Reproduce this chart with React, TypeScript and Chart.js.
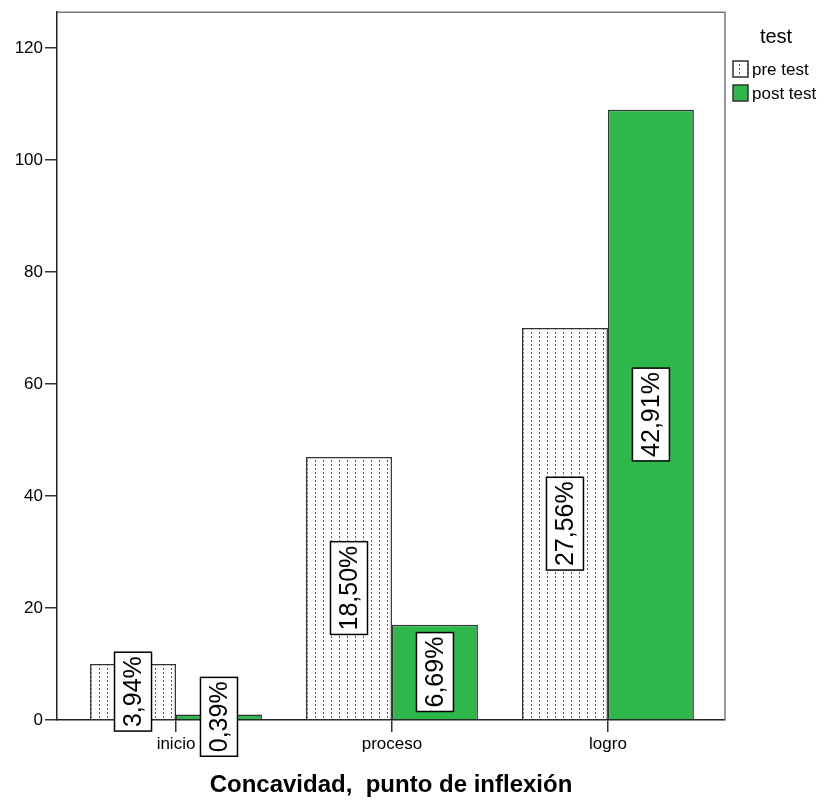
import React, { useEffect, useRef } from 'react';
import { Chart, registerables } from 'chart.js';
Chart.register(...registerables);

const categories = ['inicio', 'proceso', 'logro'];
const seriesNames = ['pre test', 'post test'];
const preTest = [10, 47, 70];
const postTest = [1, 17, 109];
const yTicks = [0, 20, 40, 60, 80, 100, 120];
const axisTitle = 'Concavidad,  punto de inflexión';
const legendTitle = 'test';

const FONT = '"Liberation Sans", Arial, sans-serif';
const GREEN = '#2eb84b';

function makePattern(): CanvasPattern | string {
  const c = document.createElement('canvas');
  c.width = 8;
  c.height = 4;
  const g = c.getContext('2d');
  if (!g) return '#fff';
  g.fillStyle = '#ffffff';
  g.fillRect(0, 0, 8, 4);
  g.fillStyle = '#5a5a5a';
  g.fillRect(3, 0, 1, 2);
  return g.createPattern(c, 'repeat') || '#fff';
}

export default function App() {
  const ref = useRef<HTMLCanvasElement | null>(null);

  useEffect(() => {
    if (!ref.current) return;
    const pattern = makePattern();
    const total = [...preTest, ...postTest].reduce((a, b) => a + b, 0);

    const labelPlugin = {
      id: 'pctLabels',
      afterDatasetsDraw(chart: any) {
        const ctx = chart.ctx;
        chart.data.datasets.forEach((ds: any, di: number) => {
          const meta = chart.getDatasetMeta(di);
          meta.data.forEach((bar: any, i: number) => {
            const v = ds.data[i].y;
            const text = ((v / total) * 100).toFixed(2).replace('.', ',') + '%';
            const cx = bar.x;
            const cy = (bar.y + bar.base) / 2;
            ctx.save();
            ctx.translate(cx, cy);
            ctx.rotate(-Math.PI / 2);
            ctx.font = `25px ${FONT}`;
            const w = ctx.measureText(text).width;
            const bw = w + 8;
            const bh = 37;
            ctx.fillStyle = '#fff';
            ctx.fillRect(-bw / 2, -bh / 2, bw, bh);
            ctx.strokeStyle = '#000';
            ctx.lineWidth = 1.5;
            ctx.strokeRect(-bw / 2, -bh / 2, bw, bh);
            ctx.fillStyle = '#000';
            ctx.textAlign = 'center';
            ctx.textBaseline = 'middle';
            ctx.fillText(text, 0, 1);
            ctx.restore();
          });
        });
      },
    };

    const framePlugin = {
      id: 'frame',
      beforeDatasetsDraw(chart: any) {
        const { ctx, chartArea } = chart;
        ctx.save();
        ctx.strokeStyle = '#777';
        ctx.lineWidth = 1.5;
        ctx.beginPath();
        ctx.moveTo(chartArea.left, chartArea.top);
        ctx.lineTo(chartArea.right, chartArea.top);
        ctx.lineTo(chartArea.right, chartArea.bottom);
        ctx.stroke();
        ctx.restore();
      },
      afterDraw(chart: any) {
        const ctx = chart.ctx;
        const ds = chart.data.datasets;
        ctx.save();
        ctx.fillStyle = '#000';
        ctx.textBaseline = 'middle';
        ctx.textAlign = 'center';
        ctx.font = `20px ${FONT}`;
        ctx.fillText(legendTitle, 776, 37);
        ctx.textAlign = 'left';
        ctx.font = `17px ${FONT}`;
        const rows = [69, 93];
        ds.forEach((d: any, i: number) => {
          const y = rows[i];
          ctx.fillStyle = d.backgroundColor;
          ctx.fillRect(733, y - 8, 15, 16);
          ctx.strokeStyle = '#333';
          ctx.lineWidth = 1.5;
          ctx.strokeRect(733, y - 8, 15, 16);
          ctx.fillStyle = '#000';
          ctx.fillText(d.label, 752, y + 1);
        });
        ctx.restore();
      },
    };

    const chart = new Chart(ref.current, {
      type: 'bar',
      data: {
        datasets: [
          {
            label: seriesNames[0],
            data: categories.map((_, i) => ({ x: i, y: preTest[i] })),
            backgroundColor: pattern as any,
            borderColor: '#333',
            borderWidth: 1.5,
          },
          {
            label: seriesNames[1],
            data: categories.map((_, i) => ({ x: i, y: postTest[i] })),
            backgroundColor: GREEN,
            borderColor: '#333',
            borderWidth: 1.5,
          },
        ],
      },
      options: {
        animation: false,
        responsive: true,
        maintainAspectRatio: false,
        layout: { padding: { left: 0, right: 99, top: 12, bottom: 0 } },
        datasets: { bar: { categoryPercentage: 0.796, barPercentage: 1 } },
        plugins: { legend: { display: false }, tooltip: { enabled: false } },
        scales: {
          x: {
            type: 'linear',
            min: -0.551,
            max: 2.542,
            offset: false,
            afterBuildTicks: (s: any) => {
              s.ticks = categories.map((_, i) => ({ value: i }));
            },
            afterFit: (s: any) => {
              s.height = 80;
            },
            ticks: {
              includeBounds: false,
              stepSize: 1,
              callback: (v: any) => categories[v] ?? '',
              color: '#000',
              font: { family: FONT, size: 17 },
              padding: 2,
              maxRotation: 0,
            },
            grid: {
              offset: false,
              drawOnChartArea: false,
              drawTicks: true,
              tickLength: 12,
              color: '#333',
              lineWidth: 1.5,
            },
            border: { display: true, color: '#222', width: 1.5 },
            title: {
              display: true,
              text: axisTitle,
              color: '#000',
              font: { family: FONT, size: 24, weight: 'bold' },
              padding: { top: 0, bottom: 0 },
            },
          },
          y: {
            min: 0,
            max: 126.43,
            afterBuildTicks: (s: any) => {
              s.ticks = yTicks.map((v) => ({ value: v }));
            },
            afterFit: (s: any) => {
              s.width = 57;
            },
            ticks: {
              includeBounds: false,
              color: '#000',
              font: { family: FONT, size: 17 },
              padding: 2,
            },
            grid: { drawOnChartArea: false, drawTicks: true, tickLength: 12, color: '#333', lineWidth: 1.5 },
            border: { display: true, color: '#222', width: 1.5 },
          },
        },
      },
      plugins: [labelPlugin, framePlugin],
    } as any);

    return () => chart.destroy();
  }, []);

  return (
    <div style={{ position: 'absolute', left: 0, top: 0, width: 824, height: 800 }}>
      <canvas ref={ref} />
    </div>
  );
}
